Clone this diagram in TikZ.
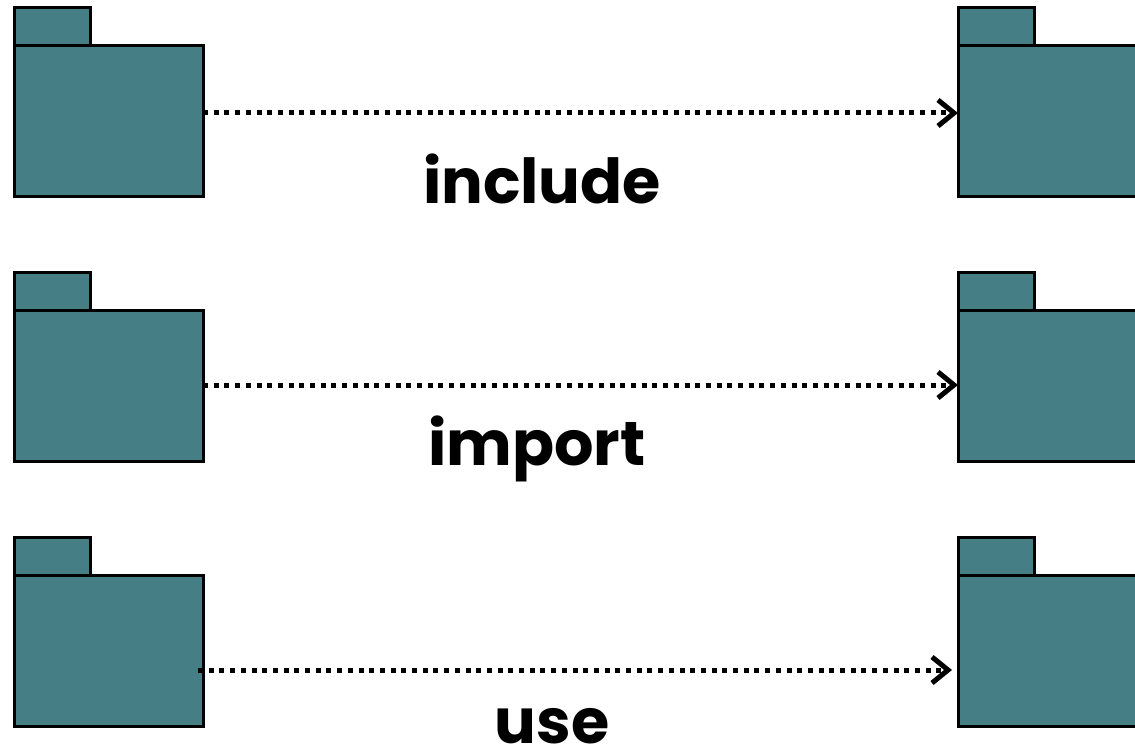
\documentclass[tikz,border=0pt]{standalone}
\usepackage{fontspec}
\setmainfont{Poppins}
\usetikzlibrary{arrows.meta, positioning}
\definecolor{pkgteal}{HTML}{457F85}

\tikzset{
  pkgbody/.style={draw, line width=3pt, fill=pkgteal, rectangle, minimum width=189pt, minimum height=151pt, inner sep=0pt, outer sep=0pt},
  pkgtab/.style={draw, line width=3pt, fill=pkgteal, rectangle, minimum width=76pt, minimum height=38pt, inner sep=0pt, outer sep=0pt, anchor=south west},
  deparrow/.style={line width=5pt, dash pattern=on 5pt off 5.7pt, -{Straight Barb[length=16pt, width=26pt, line width=5pt]}},
  deplabel/.style={font=\fontsize{62}{66}\selectfont\bfseries, anchor=base, inner sep=0pt}
}

\begin{document}
\begin{tikzpicture}[x=1pt, y=-1pt]
    \path[use as bounding box, clip] (0,0) rectangle (1135,751);

    % include
    \node[pkgbody] (srcA) at (108.5,121.5) {};
    \node[pkgtab] (srcAtab) at (srcA.north west) {};
    \node[pkgbody] (dstA) at (1052.5,121.5) {};
    \node[pkgtab] (dstAtab) at (dstA.north west) {};
    \draw[deparrow] ([yshift=8.5pt]srcA.east) -- ([yshift=8.5pt]dstA.west);
    \node[deplabel] (inclLbl) at (542,204) {include};

    % import
    \node[pkgbody] (srcB) at (108.5,386) {};
    \node[pkgtab] (srcBtab) at (srcB.north west) {};
    \node[pkgbody] (dstB) at (1052.5,386) {};
    \node[pkgtab] (dstBtab) at (dstB.north west) {};
    \draw[deparrow] ([yshift=1pt]srcB.east) -- ([yshift=1pt]dstB.west);
    \node[deplabel] (imprtLbl) at (537,465) {import};

    % use
    \node[pkgbody] (srcC) at (108.5,650.5) {};
    \node[pkgtab] (srcCtab) at (srcC.north west) {};
    \node[pkgbody] (dstC) at (1052.5,650.5) {};
    \node[pkgtab] (dstCtab) at (dstC.north west) {};
    \draw[deparrow] ([xshift=-5pt, yshift=-19.5pt]srcC.east) -- ([xshift=-6pt, yshift=-19.5pt]dstC.west);
    \node[deplabel] (useLbl) at (552,743) {use};
\end{tikzpicture}
\end{document}
